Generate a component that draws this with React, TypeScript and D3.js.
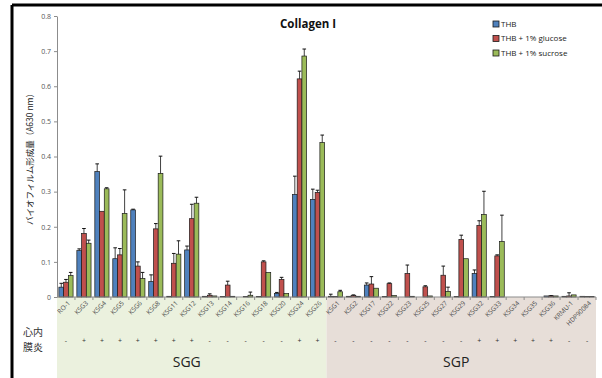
import { useEffect, useRef } from 'react';
import * as d3 from 'd3';

const categories = ['RO-1', 'KSG3', 'KSG4', 'KSG5', 'KSG6', 'KSG8', 'KSG11', 'KSG12', 'KSG13', 'KSG14', 'KSG16', 'KSG18', 'KSG20', 'KSG24', 'KSG26',
  'KSG1', 'KSG2', 'KSG17', 'KSG22', 'KSG23', 'KSG25', 'KSG27', 'KSG29', 'KSG32', 'KSG33', 'KSG34', 'KSG35', 'KSG36', 'KRMU-1', 'HDP90084'];

const endocarditis = ['-', '+', '+', '+', '+', '+', '+', '+', '-', '-', '-', '-', '-', '+', '+',
  '-', '-', '-', '-', '-', '-', '-', '-', '+', '+', '+', '+', '+', '-', '-'];

const thb = [0.028, 0.132, 0.357, 0.109, 0.248, 0.044, 0.002, 0.134, 0.002, 0.001, 0, 0.001, 0.010, 0.292, 0.278,
  0.002, 0.002, 0.034, 0.001, 0, 0, 0, 0.001, 0.067, 0.001, 0, 0, 0.003, 0.002, 0.002];
const thbErr = [0.011, 0.005, 0.022, 0.031, 0.002, 0.019, 0, 0.011, 0, 0, 0, 0, 0.003, 0.052, 0.029,
  0.006, 0, 0.006, 0, 0, 0, 0, 0, 0.010, 0, 0, 0, 0, 0, 0];

const glucose = [0.042, 0.181, 0.244, 0.120, 0.088, 0.194, 0.096, 0.223, 0.005, 0.034, 0.001, 0.100, 0.050, 0.621, 0.298,
  0.001, 0.004, 0.037, 0.038, 0.067, 0.029, 0.062, 0.164, 0.204, 0.117, 0, 0, 0.003, 0.003, 0.001];
const glucoseErr = [0.008, 0.014, 0, 0.018, 0.012, 0.015, 0.028, 0.041, 0.004, 0.011, 0, 0.003, 0.006, 0.022, 0.006,
  0, 0.002, 0.021, 0.002, 0.024, 0.003, 0.026, 0.012, 0.013, 0.003, 0, 0, 0.001, 0.009, 0];

const sucrose = [0.061, 0.153, 0.308, 0.238, 0.053, 0.352, 0.122, 0.267, 0.003, 0.002, 0.005, 0.070, 0.010, 0.686, 0.440,
  0.015, 0.002, 0.025, 0.004, 0.002, 0.003, 0.016, 0.109, 0.235, 0.158, 0, 0, 0.003, 0.006, 0.001];
const sucroseErr = [0.009, 0.009, 0.003, 0.067, 0.017, 0.049, 0.038, 0.017, 0, 0, 0.009, 0, 0, 0.020, 0.021,
  0.004, 0, 0, 0, 0, 0, 0.012, 0, 0.066, 0.075, 0, 0, 0, 0, 0];

const seriesNames = ['THB', 'THB + 1% glucose', 'THB + 1% sucrose'];
const seriesColors = ['#4f81bd', '#c0504d', '#9bbb59'];
const yTicks = [0, 0.1, 0.2, 0.3, 0.4, 0.5, 0.6, 0.7, 0.8];

const groups = [
  { name: 'SGG', from: 0, to: 15, fill: '#ebf1de' },
  { name: 'SGP', from: 15, to: 30, fill: '#e7ded8' }
];

export default function App() {
  const ref = useRef<SVGSVGElement | null>(null);

  useEffect(() => {
    if (!ref.current) return;
    const svg = d3.select(ref.current);
    svg.selectAll('*').remove();

    const left = 57, right = 596, top = 16, bottom = 297;
    const jp = '"Noto Sans CJK JP", sans-serif';
    const latin = '"Open Sans", "Liberation Sans", sans-serif';

    const x0 = d3.scaleBand<string>().domain(categories).range([left, right]);
    const x1 = d3.scaleBand<string>().domain(seriesNames).range([0, x0.bandwidth()]).paddingOuter(0.4);
    const y = d3.scaleLinear().domain([0, 0.8]).range([bottom, top]);

    // Group shading under the axis
    groups.forEach(gr => {
      const xa = x0(categories[gr.from]) as number;
      const xb = gr.to < categories.length ? (x0(categories[gr.to]) as number) : right;
      svg.append('rect')
        .attr('x', xa).attr('y', bottom)
        .attr('width', xb - xa).attr('height', 378 - bottom)
        .attr('fill', gr.fill);
      svg.append('text')
        .attr('x', (xa + xb) / 2 - 5).attr('y', 367)
        .attr('text-anchor', 'middle')
        .attr('font-family', latin).attr('font-size', 14)
        .attr('fill', '#222')
        .text(gr.name);
    });

    // Frame
    svg.append('line').attr('x1', 12).attr('x2', 602).attr('y1', 5).attr('y2', 5)
      .attr('stroke', '#000').attr('stroke-width', 3);
    svg.append('line').attr('x1', 12).attr('x2', 12).attr('y1', 5).attr('y2', 378)
      .attr('stroke', '#000').attr('stroke-width', 3);

    // Title
    svg.append('text')
      .attr('x', 308).attr('y', 28)
      .attr('text-anchor', 'middle')
      .attr('font-family', latin).attr('font-weight', 'bold').attr('font-size', 11.5)
      .attr('fill', '#111')
      .text('Collagen I');

    // Y axis
    const yAxis = svg.append('g')
      .attr('transform', `translate(${left},0)`)
      .call(d3.axisLeft(y).tickValues(yTicks).tickSize(3).tickSizeOuter(0)
        .tickFormat(d => (+d === 0 ? '0' : d3.format('.1f')(+d))));
    yAxis.select('.domain').attr('stroke', '#8c8c8c');
    yAxis.selectAll('.tick line').attr('stroke', '#8c8c8c');
    yAxis.selectAll('.tick text')
      .attr('font-family', latin).attr('font-size', 7).attr('fill', '#555').attr('x', -6);

    svg.append('text')
      .attr('transform', `translate(33,157) rotate(-90)`)
      .attr('text-anchor', 'middle')
      .attr('font-family', jp).attr('font-size', 8.5)
      .attr('fill', '#222')
      .text('バイオフィルム形成量（A630 nm）');

    // Bars
    const values = [thb, glucose, sucrose];
    const errors = [thbErr, glucoseErr, sucroseErr];
    const rows = categories.flatMap((c, i) => seriesNames.map((s, si) => ({
      cat: c, series: s, si, value: values[si][i], err: errors[si][i]
    })));
    const bw = x1.bandwidth();
    const bx = (d: { cat: string; series: string }) => (x0(d.cat) as number) + (x1(d.series) as number);

    svg.selectAll('.bar')
      .data(rows)
      .enter()
      .append('rect')
      .attr('x', d => bx(d)).attr('width', bw)
      .attr('y', d => y(d.value))
      .attr('height', d => bottom - y(d.value))
      .attr('fill', d => seriesColors[d.si])
      .attr('stroke', '#1a1a1a').attr('stroke-width', 0.7);

    const withErr = rows.filter(d => d.err > 0);
    svg.selectAll('.err')
      .data(withErr)
      .enter()
      .append('line')
      .attr('x1', d => bx(d) + bw / 2).attr('x2', d => bx(d) + bw / 2)
      .attr('y1', d => y(d.value))
      .attr('y2', d => y(d.value + d.err))
      .attr('stroke', '#111').attr('stroke-width', 0.8);
    svg.selectAll('.cap')
      .data(withErr)
      .enter()
      .append('line')
      .attr('x1', d => bx(d) + bw / 2 - 1.8).attr('x2', d => bx(d) + bw / 2 + 1.8)
      .attr('y1', d => y(d.value + d.err))
      .attr('y2', d => y(d.value + d.err))
      .attr('stroke', '#111').attr('stroke-width', 1);

    // X axis
    svg.append('line')
      .attr('x1', left).attr('x2', right).attr('y1', bottom).attr('y2', bottom)
      .attr('stroke', '#8c8c8c');
    svg.selectAll('.xtick')
      .data(categories)
      .enter()
      .append('line')
      .attr('x1', d => (x0(d) as number) + x0.bandwidth())
      .attr('x2', d => (x0(d) as number) + x0.bandwidth())
      .attr('y1', bottom).attr('y2', bottom + 3)
      .attr('stroke', '#8c8c8c');

    svg.selectAll('.xlabel')
      .data(categories)
      .enter()
      .append('text')
      .attr('transform', d => `translate(${(x0(d) as number) + x0.bandwidth() / 2 + 3},${bottom + 5}) rotate(-45)`)
      .attr('text-anchor', 'end')
      .attr('dy', '0.35em')
      .attr('font-family', latin).attr('font-size', 6.5)
      .attr('fill', '#4a4a4a')
      .text(d => d);

    // Endocarditis row
    svg.selectAll('.endo')
      .data(categories)
      .enter()
      .append('text')
      .attr('x', d => (x0(d) as number) + x0.bandwidth() / 2)
      .attr('y', 343)
      .attr('text-anchor', 'middle')
      .attr('font-family', latin).attr('font-size', 7)
      .attr('fill', '#333')
      .text((_, i) => endocarditis[i]);

    svg.append('text')
      .attr('x', 33).attr('y', 336)
      .attr('text-anchor', 'middle')
      .attr('font-family', jp).attr('font-size', 10)
      .attr('fill', '#333')
      .text('心内');
    svg.append('text')
      .attr('x', 33).attr('y', 351)
      .attr('text-anchor', 'middle')
      .attr('font-family', jp).attr('font-size', 10)
      .attr('fill', '#333')
      .text('膜炎');

    // Legend
    const legend = svg.append('g').attr('transform', 'translate(493,24)');
    seriesNames.forEach((s, i) => {
      const row = legend.append('g').attr('transform', `translate(0,${i * 14.5})`);
      row.append('rect')
        .attr('x', 0).attr('y', -3).attr('width', 6).attr('height', 6)
        .attr('fill', seriesColors[i])
        .attr('stroke', '#1a1a1a').attr('stroke-width', 0.8);
      row.append('text')
        .attr('x', 8).attr('y', 0).attr('dy', '0.35em')
        .attr('font-family', latin).attr('font-size', 8)
        .attr('fill', '#222')
        .text(s);
    });
  }, []);

  return (
    <div style={{ position: 'absolute', left: 0, top: 0 }}>
      <svg ref={ref} width={602} height={378} style={{ display: 'block', background: '#fff' }} />
    </div>
  );
}
